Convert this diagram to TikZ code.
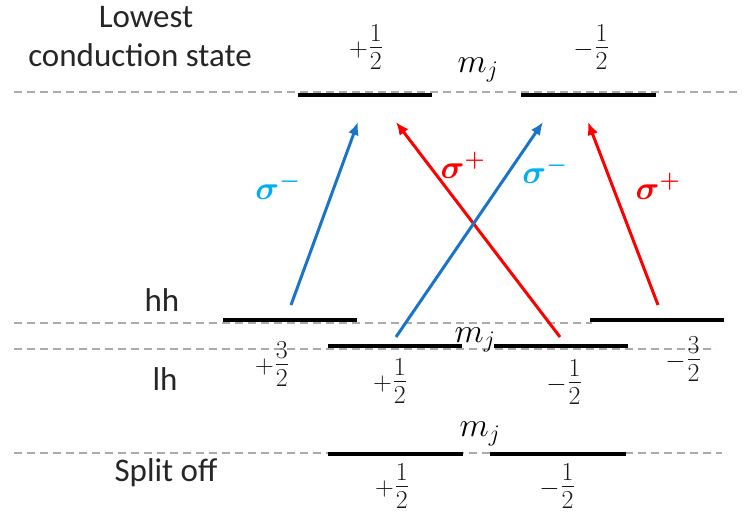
\RequirePackage{fix-cm}
\documentclass[tikz,border=0pt]{standalone}
\usepackage{amsmath}
\usepackage{fontspec}
\setmainfont{Carlito}
\usetikzlibrary{arrows.meta}
\definecolor{dashgray}{HTML}{ABABAB}
\definecolor{arrowblue}{HTML}{1A75C9}
\definecolor{labelcyan}{HTML}{00B0F0}
\definecolor{arrowred}{HTML}{FF0000}
\newcommand\mjfrac[3]{{\fontsize{26}{30}\selectfont$#1$}\kern1pt{\fontsize{37}{44}\selectfont$\frac{#2}{#3}$}}
\tikzset{
  level/.style={line width=4pt, black},
  guide/.style={dashgray, line width=2pt, dash pattern=on 8pt off 5pt},
  lbl/.style={font=\fontsize{33}{39}\selectfont, inner sep=0pt, text=black!85},
  mlbl/.style={font=\fontsize{34}{40}\selectfont, inner sep=0pt},
  flbl/.style={inner sep=0pt, text=black!90},
  slbl/.style={font=\fontsize{33}{40}\selectfont, inner sep=0pt},
  bluearrow/.style={-{Latex[length=13pt,width=11pt]}, line width=3pt, arrowblue},
  redarrow/.style={-{Latex[length=13pt,width=11pt]}, line width=3pt, arrowred},
}
\begin{document}
\begin{tikzpicture}[x=1pt,y=-1pt]
\useasboundingbox (0,0) rectangle (742,513);
% guide lines
\draw[guide] (14,92) -- (742,92);
\draw[guide] (14,323) -- (592,323);
\draw[guide] (14,349) -- (716,349);
\draw[guide] (14,453) -- (722,453);
% levels
\coordinate (c1a) at (298,95); \coordinate (c1b) at (432,95);
\coordinate (c2a) at (521,95); \coordinate (c2b) at (656,95);
\coordinate (h1a) at (223,320); \coordinate (h1b) at (357,320);
\coordinate (h2a) at (590,320); \coordinate (h2b) at (724,320);
\coordinate (l1a) at (328,346); \coordinate (l1b) at (462,346);
\coordinate (l2a) at (494,346); \coordinate (l2b) at (628,346);
\coordinate (s1a) at (328,454); \coordinate (s1b) at (463,454);
\coordinate (s2a) at (490,454); \coordinate (s2b) at (626,454);
\draw[level] (c1a) -- (c1b);
\draw[level] (c2a) -- (c2b);
\draw[level] (h1a) -- (h1b);
\draw[level] (h2a) -- (h2b);
\draw[level] (l1a) -- (l1b);
\draw[level] (l2a) -- (l2b);
\draw[level] (s1a) -- (s1b);
\draw[level] (s2a) -- (s2b);
% text labels
\node[lbl, anchor=base] (lowest) at (146,28) {Lowest};
\node[lbl, anchor=base] (cond) at (140,67) {conduction state};
\node[lbl, anchor=base] (hh) at (162,312) {hh};
\node[lbl, anchor=base] (lh) at (165,390) {lh};
\node[lbl, anchor=base] (so) at (166,481) {Split off};
% math labels
\node[flbl] (tp) at (366,47) {\mjfrac{+}{1}{2}};
\node[flbl] (tm) at (591,47) {\mjfrac{-}{1}{2}};
\node[mlbl] (mj1) at (478,70) {$m_j$};
\node[mlbl] (mj2) at (475,340) {$m_j$};
\node[mlbl] (mj3) at (480,434) {$m_j$};
\node[flbl] (hp) at (272,364) {\mjfrac{+}{3}{2}};
\node[flbl] (lp) at (390,381) {\mjfrac{+}{1}{2}};
\node[flbl] (lm) at (564,382) {\mjfrac{-}{1}{2}};
\node[flbl] (hm) at (683,359) {\mjfrac{-}{3}{2}};
\node[flbl] (sp) at (392,486) {\mjfrac{+}{1}{2}};
\node[flbl] (sm) at (557,486) {\mjfrac{-}{1}{2}};
% transitions
\coordinate (b1s) at (291,305); \coordinate (b1e) at (358,122);
\coordinate (r1s) at (560,337); \coordinate (r1e) at (396,122);
\coordinate (b2s) at (396,337); \coordinate (b2e) at (543,122);
\coordinate (r2s) at (658,305); \coordinate (r2e) at (588,122);
\draw[bluearrow] (b1s) -- (b1e);
\draw[redarrow] (r1s) -- (r1e);
\draw[bluearrow] (b2s) -- (b2e);
\draw[redarrow] (r2s) -- (r2e);
\node[slbl, text=labelcyan] (sg1) at (278,186) {$\boldsymbol{\sigma}^{\boldsymbol{-}}$};
\node[slbl, text=arrowred] (sg2) at (463,165) {$\boldsymbol{\sigma}^{\boldsymbol{+}}$};
\node[slbl, text=labelcyan] (sg3) at (545,170) {$\boldsymbol{\sigma}^{\boldsymbol{-}}$};
\node[slbl, text=arrowred] (sg4) at (658,186) {$\boldsymbol{\sigma}^{\boldsymbol{+}}$};
\end{tikzpicture}
\end{document}
